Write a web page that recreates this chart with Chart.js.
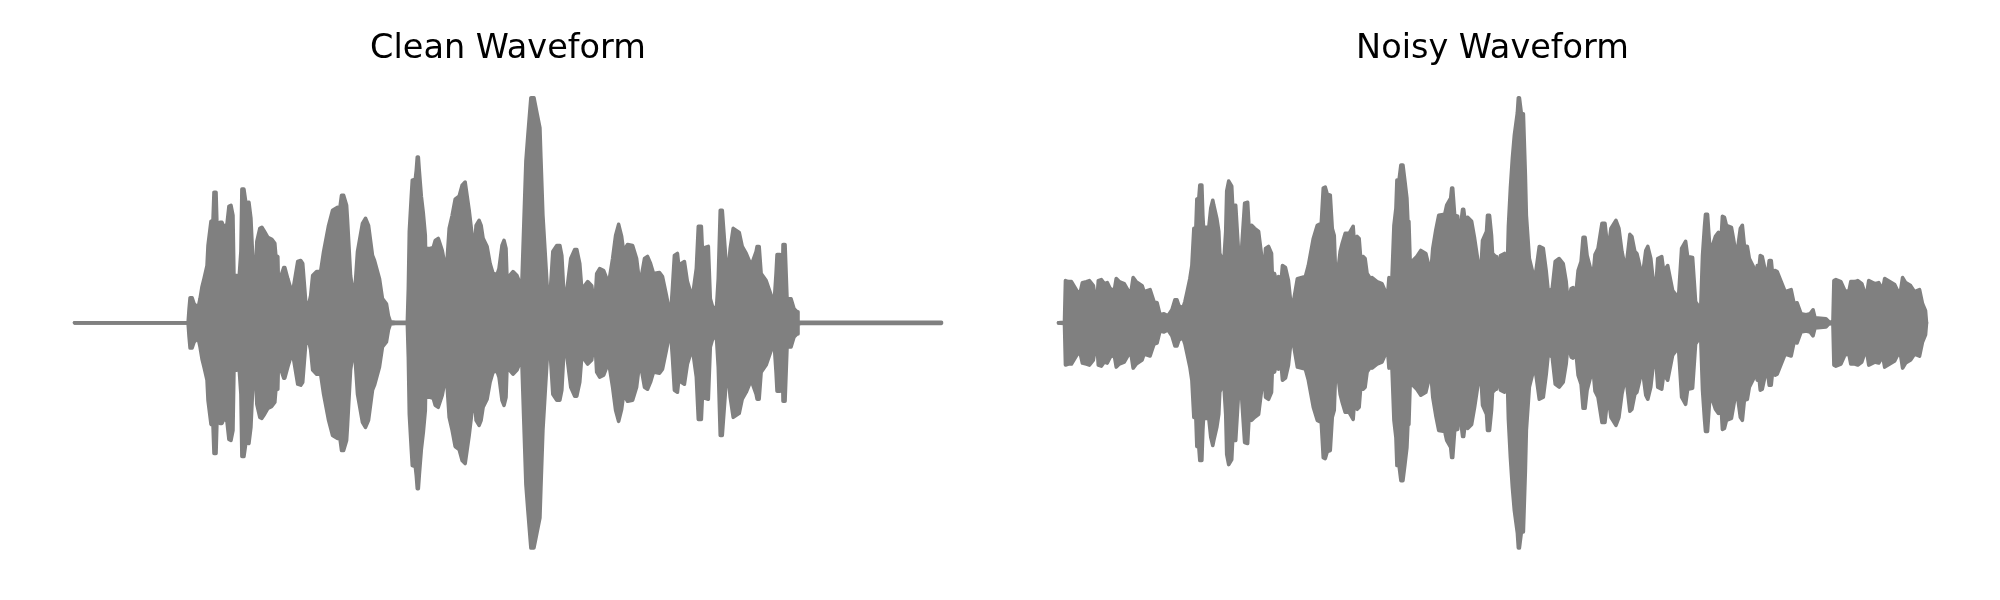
<!DOCTYPE html>
<html>
<head>
<meta charset="utf-8">
<script src="https://cdn.jsdelivr.net/npm/chart.js@4"></script>
<style>
  html, body { margin: 0; background: #fff; }
  .row { display: flex; width: 2000px; height: 600px; }
  .box { position: relative; width: 1000px; height: 600px; }
</style>
</head>
<body>
<div class="row">
  <div class="box"><canvas id="clean"></canvas></div>
  <div class="box"><canvas id="noisy"></canvas></div>
</div>
<script>
const titles = ["Clean Waveform", "Noisy Waveform"];

// peak envelope: frame number and peak height
const cleanFrames = [0,114,115,116,118,120,124,126,128,130,133,134,137,139,140,142,143,146,148,150,153,155,157,159,160,163,165,167,168,170,172,175,177,180,181,183,186,188,190,194,198,201,202,204,205,207,210,211,214,218,220,224,227,229,232,235,237,239,243,247,250,255,259,264,266,268,270,273,274,277,280,281,284,289,292,295,299,301,306,309,313,315,317,322,334,
  335,336,338,339,342,343,344,345,346,348,350,352,353,354,357,360,362,365,369,372,374,376,379,382,386,389,392,394,396,399,401,403,406,408,410,414,417,420,424,426,429,431,433,434,440,444,448,449,451,453,455,458,461,464,467,468,470,472,475,477,480,484,487,489,491,494,498,502,504,507,510,512,515,519,522,524,527,531,536,540,543,546,549,551,555,560,564,566,569,572,575,578,581,587,
  590,594,598,600,602,605,607,609,612,615,620,624,626,629,630,636,638,640,644,646,648,650,653,655,658,661,667,670,674,679,684,685,687,689,694,702,704,705,708,709,710,711,713,715,719,722,725,726,729,870];
const cleanPeak = [0,0,14,25,25,19,15,24,36,44,57,77,101,102,130,130,96,100,100,95,98,116,117,107,47,47,42,71,133,133,119,120,104,39,39,81,94,95,92,85,83,79,67,66,24,46,55,55,44,31,37,61,62,59,21,18,27,47,51,51,71,97,112,115,112,127,127,117,101,47,27,27,71,99,104,97,67,62,44,24,19,7,1,0.5,0.5,
  34,91,126,142,143,152,165,165,151,126,109,87,29,74,74,75,82,84,72,56,64,94,107,123,126,137,140,126,112,87,69,97,102,97,84,76,59,49,48,54,77,82,74,44,51,47,37,41,101,161,187,224,224,209,194,164,107,74,24,24,71,77,77,67,30,32,64,73,73,59,21,37,41,37,14,49,54,52,39,64,87,98,86,71,78,77,64,48,47,64,66,59,49,50,
  46,27,6,34,67,69,51,59,61,41,25,54,96,96,74,76,24,17,11,44,112,112,71,42,74,94,90,76,69,57,71,76,76,49,42,19,49,68,68,41,18,78,78,24,24,14,11,1,0.5,0.5];

const noisyFrames = [0,5,6,7,10,13,16,19,22,24,28,31,35,36,39,40,43,46,49,52,56,58,61,66,70,73,75,78,84,86,92,96,99,102,106,110,114,117,119,121,125,127,129,132,134,136,138,139,141,142,144,145,146,147,151,153,155,156,159,161,162,166,168,169,171,174,175,178,180,182,184,187,190,192,194,197,201,204,205,207,208,211,214,215,217,219,221,224,225,228,231,233,236,240,248,251,256,260,264,266,268,270,273,275,277,278,280,
  283,285,288,292,296,297,300,302,304,306,308,310,312,314,315,320,325,328,331,332,335,337,339,340,342,344,346,348,350,351,352,354,356,360,364,369,371,374,376,379,382,388,390,394,395,396,398,401,402,404,406,407,409,411,415,418,421,424,426,430,431,433,435,436,438,439,440,442,444,448,451,452,454,456,458,461,462,463,465,467,469,470,473,476,478,480,483,487,490,492,496,499,503,507,510,512,515,517,520,522,525,527,529,531,535,537,539,542,546,549,552,555,560,563,566,570,571,574,576,579,581,
  583,585,587,590,592,595,597,600,602,606,608,612,615,617,621,623,626,630,632,637,640,642,645,647,649,650,652,654,656,660,663,666,667,669,671,676,678,680,682,685,687,689,692,694,698,700,702,704,705,707,710,712,714,716,718,720,722,726,730,736,739,742,746,751,755,758,760,771,774,778,779,781,786,790,794,796,800,803,807,810,812,814,820,824,828,830,835,840,843,846,848,851,856,860,865,868,871,872];
const noisyPeak = [0,0.5,0,42,41,41,36,31,31,40,41,42,37,31,27,42,43,39,40,34,32,44,41,39,32,32,45,41,37,31,33,21,20,8,9,7,13,23,23,17,15,21,30,44,57,94,94,123,124,137,137,107,89,95,95,114,122,117,104,91,69,59,91,131,141,136,116,117,84,54,74,119,120,84,97,94,91,67,57,57,74,76,69,41,49,41,46,45,57,55,42,23,21,44,46,57,84,97,99,134,135,128,127,94,87,59,46,
  71,79,89,89,96,82,86,84,59,66,64,49,46,36,45,41,39,32,32,45,44,97,114,142,141,157,157,141,124,101,101,37,62,66,72,69,61,49,74,92,107,108,117,124,134,134,107,106,72,97,113,113,97,105,101,84,64,46,82,91,107,107,87,69,67,51,66,47,67,69,59,96,134,164,187,209,224,224,208,208,147,107,64,52,41,54,76,74,51,31,34,61,64,59,41,19,34,35,31,52,61,85,85,67,52,46,68,74,99,99,71,94,102,94,71,52,62,88,86,71,69,
  61,52,49,72,76,64,46,34,64,66,51,57,42,32,27,27,74,81,66,65,21,18,9,67,96,108,108,79,74,86,90,89,106,105,97,95,84,72,72,94,97,77,76,64,56,46,57,57,67,66,52,46,62,62,42,52,51,41,31,33,19,20,9,8,9,13,5,4,1,0.5,42,43,41,32,31,41,41,42,39,30,29,42,39,40,33,44,41,38,32,32,45,40,37,31,33,19,12,0];

function envelope(frames, peak, sign) {
  return frames.map((f, i) => ({ x: f, y: sign * peak[i] }));
}

function waveform(id, title, frames, peak, left, right) {
  const line = {
    borderColor: "#808080",
    backgroundColor: "#808080",
    borderWidth: 3.6,
    borderCapStyle: "round",
    borderJoinStyle: "round",
    pointRadius: 0,
    tension: 0,
    clip: false,
  };
  return new Chart(document.getElementById(id), {
    type: "line",
    data: {
      datasets: [
        { ...line, data: envelope(frames, peak, 1), fill: "+1" },
        { ...line, data: envelope(frames, peak, -1), fill: false },
      ],
    },
    options: {
      responsive: false,
      animation: false,
      layout: { padding: { left: left, right: right, top: 0, bottom: 50 } },
      plugins: {
        legend: { display: false },
        tooltip: { enabled: false },
        title: {
          display: true,
          text: title,
          color: "#000",
          font: { family: "'DejaVu Sans'", size: 33.5, weight: "normal", lineHeight: 1.2 },
          padding: { top: 29.5, bottom: 26 },
        },
      },
      scales: {
        x: { type: "linear", display: false, min: 0, max: frames[frames.length - 1] },
        y: { display: false, min: -226, max: 226 },
      },
    },
  });
}

document.getElementById("clean").width = 1000;
document.getElementById("clean").height = 600;
document.getElementById("noisy").width = 1000;
document.getElementById("noisy").height = 600;

waveform("clean", titles[0], cleanFrames, cleanPeak, 74.5, 58.5);
waveform("noisy", titles[1], noisyFrames, noisyPeak, 58.5, 73.5);
</script>
</body>
</html>
